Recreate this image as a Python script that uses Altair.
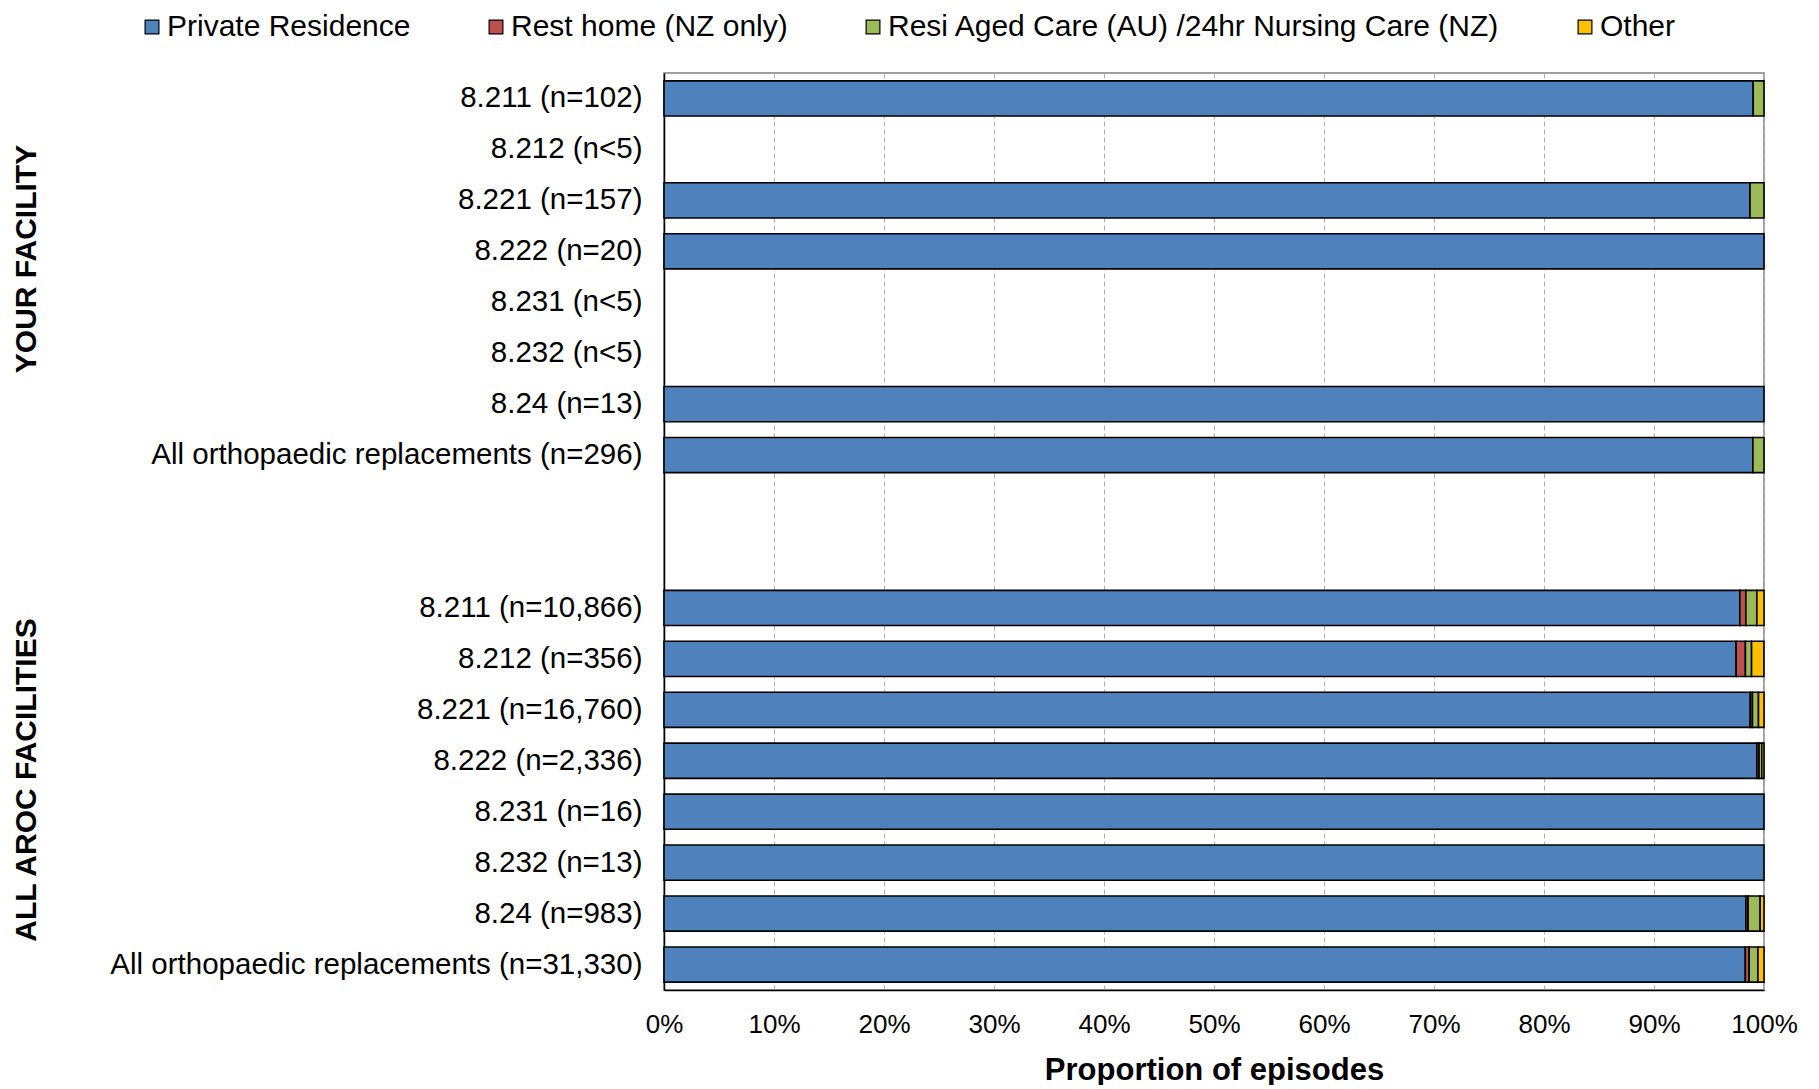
import altair as alt
import pandas as pd

categories = [
    "8.211 (n=102)", "8.212 (n<5)", "8.221 (n=157)", "8.222 (n=20)",
    "8.231 (n<5)", "8.232 (n<5)", "8.24 (n=13)", "All orthopaedic replacements (n=296)",
    " ", "  ",
    "8.211 (n=10,866)", "8.212 (n=356)", "8.221 (n=16,760)", "8.222 (n=2,336)",
    "8.231 (n=16)", "8.232 (n=13)", "8.24 (n=983)", "All orthopaedic replacements (n=31,330)",
]
destinations = ["Private Residence", "Rest home (NZ only)",
                "Resi Aged Care (AU) /24hr Nursing Care (NZ)", "Other"]
colors = ["#4F81BD", "#C0504D", "#9BBB59", "#FFC000"]

private_residence = [99.02, None, 98.73, 100, None, None, 100, 98.99, None, None,
                     97.8, 97.47, 98.75, 99.35, 100, 100, 98.35, 98.3]
rest_home = [0, None, 0, 0, None, None, 0, 0, None, None,
             0.55, 0.84, 0.2, 0.2, 0, 0, 0.2, 0.35]
resi_aged_care = [0.98, None, 1.27, 0, None, None, 0, 1.01, None, None,
                  1.0, 0.56, 0.55, 0.25, 0, 0, 1.1, 0.8]
other = [0, None, 0, 0, None, None, 0, 0, None, None,
         0.65, 1.12, 0.5, 0.2, 0, 0, 0.35, 0.55]

group_labels = ["YOUR FACILITY", "ALL AROC FACILITIES"]
group_label_y = [186, 707]

rows = []
for series_idx, (name, vals) in enumerate(zip(destinations,
                                              [private_residence, rest_home, resi_aged_care, other])):
    for cat, v in zip(categories, vals):
        if v is not None and v > 0:
            rows.append({"category": cat, "destination": name, "value": v, "order": series_idx})
df = pd.DataFrame(rows)

FONT = "Liberation Sans"

bars = alt.Chart(df).mark_bar(stroke="black", strokeWidth=1.6).encode(
    x=alt.X("value:Q", stack="zero",
            scale=alt.Scale(domain=[0, 100], nice=False),
            axis=alt.Axis(values=list(range(0, 101, 10)),
                          labelExpr="datum.value + '%'",
                          labelFlush=False, labelOverlap=False,
                          title="Proportion of episodes",
                          grid=True, gridDash=[5, 3], gridColor="#B0B0B0", gridWidth=1,
                          ticks=False, tickSize=0,
                          domainColor="black", domainWidth=1.5,
                          labelFont=FONT, labelFontSize=26, labelColor="black",
                          labelPadding=21,
                          titleFont=FONT, titleFontSize=31, titleFontWeight="bold",
                          titleColor="black", titlePadding=18)),
    y=alt.Y("category:N", sort=categories,
            scale=alt.Scale(domain=categories, paddingInner=0.31, paddingOuter=0.155),
            axis=alt.Axis(title=None, ticks=False, tickSize=0,
                          domainColor="black", domainWidth=1.5,
                          labelFont=FONT, labelFontSize=29.5, labelColor="black",
                          labelPadding=22, labelLimit=800)),
    color=alt.Color("destination:N",
                    scale=alt.Scale(domain=destinations, range=colors),
                    legend=alt.Legend(title=None, orient="none", legendX=-527, legendY=-61,
                                      direction="horizontal",
                                      symbolType="square", symbolSize=190,
                                      symbolStrokeColor="black", symbolStrokeWidth=1.2,
                                      labelFont=FONT, labelFontSize=30, labelColor="black",
                                      labelOffset=0, columnPadding=70, labelLimit=900)),
    order=alt.Order("order:Q"),
)

gdf = pd.DataFrame({"label": group_labels, "ypos": group_label_y})
glabels = alt.Chart(gdf).mark_text(
    angle=270, font=FONT, fontSize=30, fontWeight="bold", color="black",
    align="center", baseline="middle"
).encode(
    text="label:N",
    x=alt.value(-637),
    y=alt.Y("ypos:Q", scale=None),
)

chart = alt.layer(bars, glabels).properties(
    width=1100, height=917,
    padding={"left": 4, "top": 4, "right": 5, "bottom": 0},
).configure_view(stroke="#808080", strokeWidth=1.5)

chart.save("out.html", embed_options={"renderer": "svg", "actions": False})
